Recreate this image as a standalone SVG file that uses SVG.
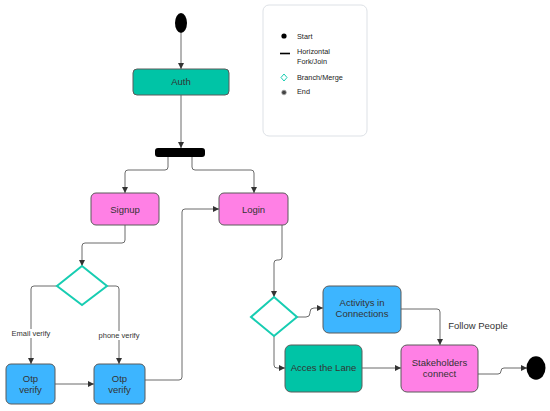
<svg xmlns="http://www.w3.org/2000/svg" width="550" height="411" viewBox="0 0 550 411">
<style>
.node{stroke:#5a5a5a;stroke-width:1}
.pink{fill:#FF80E5}
.blue{fill:#3DB5FF}
.teal{fill:#00C4A6}
.t{font-family:"Liberation Sans",Arial,sans-serif;font-size:9.5px;fill:#333;text-anchor:middle}
.lab{font-family:"Liberation Sans",Arial,sans-serif;font-size:7.5px;fill:#333;text-anchor:middle}
.leg{font-family:"Liberation Sans",Arial,sans-serif;font-size:7.3px;fill:#222}
.c{fill:none;stroke:#6b6b6b;stroke-width:1}
.dia{fill:#fff;stroke:#17CDB2;stroke-width:2}
</style>
<defs>
<marker id="ah" viewBox="0 0 10 10" refX="10" refY="5" markerWidth="6" markerHeight="6" markerUnits="userSpaceOnUse" orient="auto">
<path d="M0,0 L10,5 L0,10 z" fill="#333"/>
</marker>
</defs>
<rect width="550" height="411" fill="#fff"/>

<g id="legend">
<rect x="263" y="5" width="104" height="131" rx="6" fill="#fff" stroke="#dde1e6" stroke-width="1"/>
<circle cx="284" cy="36" r="2.6" fill="#000"/>
<text class="leg" x="297" y="39">Start</text>
<line x1="280" y1="53.5" x2="290" y2="53.5" stroke="#000" stroke-width="1.6"/>
<text class="leg" x="297" y="54">Horizontal</text>
<text class="leg" x="297" y="64">Fork/Join</text>
<path d="M284,74 L287,77.5 L284,81 L281,77.5 z" fill="none" stroke="#17CDB2" stroke-width="1"/>
<text class="leg" x="297" y="80">Branch/Merge</text>
<circle cx="284" cy="92.5" r="2.4" fill="#444" stroke="#bbb" stroke-width="0.8"/>
<text class="leg" x="297" y="94">End</text>
</g>

<g id="connectors">
<path class="c" d="M181,33 V69" marker-end="url(#ah)"/>
<path class="c" d="M181,95 V148" marker-end="url(#ah)"/>
<path class="c" d="M168,157 V167 Q168,170 165,170 H128 Q125,170 125,173 V193" marker-end="url(#ah)"/>
<path class="c" d="M192,157 V167 Q192,170 195,170 H251 Q254,170 254,173 V193" marker-end="url(#ah)"/>
<path class="c" d="M125,225 V240 Q125,243 122,243 H85 Q82,243 82,246 V266" marker-end="url(#ah)"/>
<path class="c" d="M57,286 H34 Q31,286 31,289 V364" marker-end="url(#ah)"/>
<path class="c" d="M107,286 H116 Q119,286 119,289 V364" marker-end="url(#ah)"/>
<path class="c" d="M55,384 H94" marker-end="url(#ah)"/>
<path class="c" d="M145,380 H179 Q182,380 182,377 V212 Q182,209 185,209 H219" marker-end="url(#ah)"/>
<path class="c" d="M282,225 V257 Q282,260 279,260 H277 Q274,260 274,263 V297" marker-end="url(#ah)"/>
<path class="c" d="M297,317 H306 Q310,317 310,313 V312 Q310,308 314,308 H323" marker-end="url(#ah)"/>
<path class="c" d="M274,336 V365 Q274,368 277,368 H285" marker-end="url(#ah)"/>
<path class="c" d="M362,368 H401" marker-end="url(#ah)"/>
<path class="c" d="M401,309 H437 Q440,309 440,312 V345" marker-end="url(#ah)"/>
<path class="c" d="M478,374 H498 Q501,374 501,371 Q501,368 504,368 H527" marker-end="url(#ah)"/>
<rect x="10" y="329" width="42" height="9" fill="#fff"/>
<text class="lab" x="31" y="336">Email verify</text>
<rect x="97" y="331" width="44" height="9" fill="#fff"/>
<text class="lab" x="119" y="338">phone verify</text>
<text class="t" x="478" y="329">Follow People</text>
</g>

<g id="start"><ellipse cx="181" cy="23" rx="6" ry="10" fill="#000"/></g>
<g id="auth"><rect class="node teal" x="133" y="69" width="96" height="26" rx="4"/><text class="t" x="181" y="85">Auth</text></g>
<g id="fork"><rect x="155" y="148" width="50" height="9" rx="3" fill="#000"/></g>
<g id="signup"><rect class="node pink" x="91" y="193" width="68" height="32" rx="5"/><text class="t" x="125" y="212.5">Signup</text></g>
<g id="login"><rect class="node pink" x="219" y="193" width="69" height="32" rx="5"/><text class="t" x="253.5" y="212.5">Login</text></g>
<g id="branch1"><path class="dia" d="M82,266 L107,286 L82,305 L57,286 z"/></g>
<g id="otp1"><rect class="node blue" x="6" y="364" width="49" height="40" rx="5"/><text class="t" x="30.5" y="382">Otp</text><text class="t" x="30.5" y="393">verify</text></g>
<g id="otp2"><rect class="node blue" x="94" y="364" width="51" height="40" rx="5"/><text class="t" x="119.5" y="382">Otp</text><text class="t" x="119.5" y="393">verify</text></g>
<g id="branch2"><path class="dia" d="M274,297 L297,317 L274,336 L251,317 z"/></g>
<g id="activitys"><rect class="node blue" x="323" y="286" width="78" height="47" rx="6"/><text class="t" x="362" y="306">Activitys in</text><text class="t" x="362" y="317">Connections</text></g>
<g id="acces"><rect class="node teal" x="285" y="345" width="77" height="47" rx="6"/><text class="t" x="323.5" y="371">Acces the Lane</text></g>
<g id="stakeholders"><rect class="node pink" x="401" y="345" width="77" height="47" rx="6"/><text class="t" x="439.5" y="366">Stakeholders</text><text class="t" x="439.5" y="377">connect</text></g>
<g id="end"><ellipse cx="536" cy="368" rx="9.5" ry="11.7" fill="#000"/></g>
</svg>
